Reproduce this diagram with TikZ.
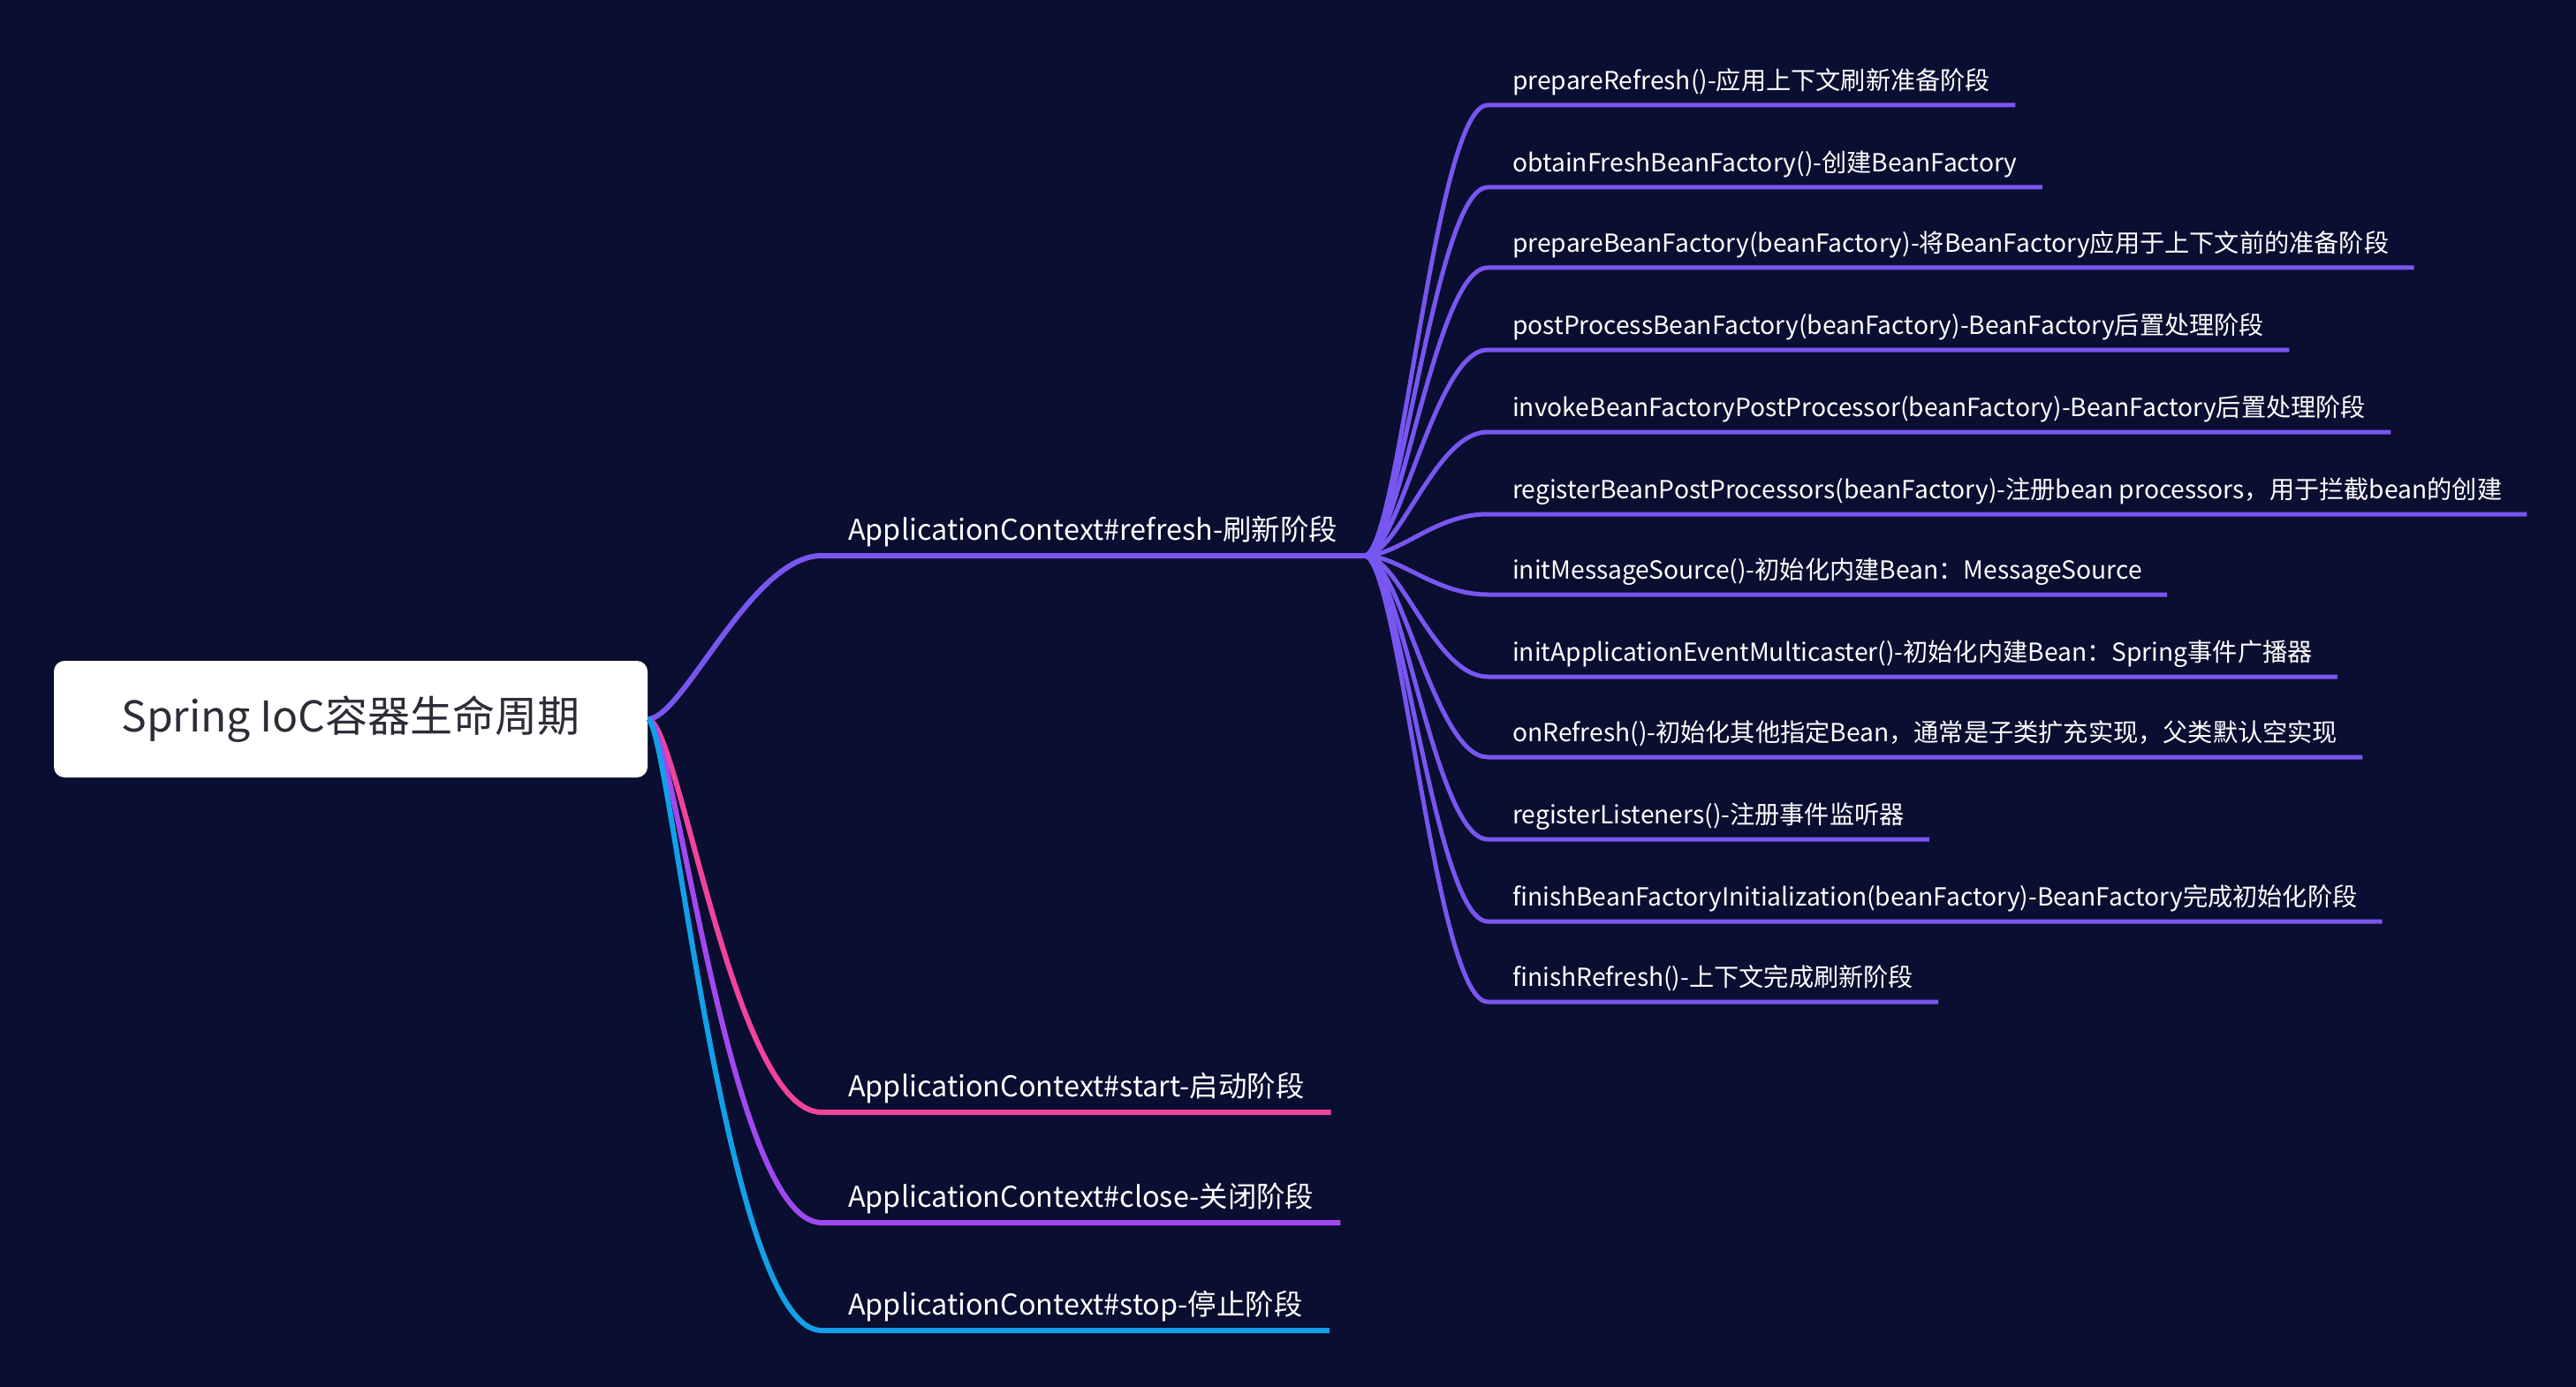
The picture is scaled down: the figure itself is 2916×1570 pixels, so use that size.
\documentclass[tikz,border=0pt]{standalone}
\usepackage{fontspec}
\setmainfont{Noto Sans CJK SC}
\usepackage{xcolor}
\usepackage{tikz}
\usetikzlibrary{positioning}

\definecolor{bgnavy}{RGB}{10,14,48}
\definecolor{rootgray}{RGB}{43,46,54}
\definecolor{refpurple}{RGB}{120,86,240}
\definecolor{startpink}{RGB}{240,68,155}
\definecolor{closeviolet}{RGB}{162,72,240}
\definecolor{stopblue}{RGB}{18,160,232}

\begin{document}
\begin{tikzpicture}[
    x=1pt, y=-1pt,
    rootbox/.style={rectangle, fill=white, rounded corners=12pt,
                    minimum width=672pt, minimum height=132pt,
                    text=rootgray, font=\fontsize{48}{52}\selectfont},
    stage/.style={anchor=south west, inner xsep=30pt, inner ysep=17pt,
                  text depth=0pt, text=white, font=\fontsize{32.4}{35}\selectfont},
    leaf/.style={anchor=south west, inner xsep=28pt, inner ysep=17pt,
                 text depth=0pt, text=white, font=\fontsize{28.2}{30}\selectfont},
    link/.style={line width=6pt},
    twig/.style={line width=5pt, refpurple},
  ]
    \useasboundingbox (0,0) rectangle (2916,1570);
    \fill[bgnavy] (0,0) rectangle (2916,1570);

    \node[rootbox] (root) at (397,814) {Spring IoC容器生命周期};

    % stages of the context
    \node[stage] (refresh) at (930,629)  {ApplicationContext\#refresh-刷新阶段};
    \node[stage] (start)   at (930,1259) {ApplicationContext\#start-启动阶段};
    \node[stage] (close)   at (930,1384) {ApplicationContext\#close-关闭阶段};
    \node[stage] (stop)    at (930,1506) {ApplicationContext\#stop-停止阶段};

    % steps of refresh
    \node[leaf] (prep)     at (1684,119)  {prepareRefresh()-应用上下文刷新准备阶段};
    \node[leaf] (obtain)   at (1684,212)  {obtainFreshBeanFactory()-创建BeanFactory};
    \node[leaf] (prepbf)   at (1684,303)  {prepareBeanFactory(beanFactory)-将BeanFactory应用于上下文前的准备阶段};
    \node[leaf] (postbf)   at (1684,396)  {postProcessBeanFactory(beanFactory)-BeanFactory后置处理阶段};
    \node[leaf] (invoke)   at (1684,489)  {invokeBeanFactoryPostProcessor(beanFactory)-BeanFactory后置处理阶段};
    \node[leaf] (regbpp)   at (1684,582)  {registerBeanPostProcessors(beanFactory)-注册bean processors，用于拦截bean的创建};
    \node[leaf] (msgsrc)   at (1684,673)  {initMessageSource()-初始化内建Bean：MessageSource};
    \node[leaf] (multicst) at (1684,766)  {initApplicationEventMulticaster()-初始化内建Bean：Spring事件广播器};
    \node[leaf] (onref)    at (1684,857)  {onRefresh()-初始化其他指定Bean，通常是子类扩充实现，父类默认空实现};
    \node[leaf] (reglis)   at (1684,950)  {registerListeners()-注册事件监听器};
    \node[leaf] (finbf)    at (1684,1043) {finishBeanFactoryInitialization(beanFactory)-BeanFactory完成初始化阶段};
    \node[leaf] (finref)   at (1684,1134) {finishRefresh()-上下文完成刷新阶段};

    % root -> stages
    \draw[link, refpurple]   (root.east) .. controls +(40,0) and +(-80,0)  .. (refresh.south west) -- (refresh.south east);
    \draw[link, startpink]   (root.east) .. controls +(35,0) and +(-100,0) .. (start.south west) -- (start.south east);
    \draw[link, closeviolet] (root.east) .. controls +(30,0) and +(-105,0) .. (close.south west) -- (close.south east);
    \draw[link, stopblue]    (root.east) .. controls +(25,0) and +(-110,0) .. (stop.south west) -- (stop.south east);

    % refresh -> steps
    \draw[twig] (refresh.south east) .. controls +(40,0) and +(-60,0) .. (prep.south west) -- (prep.south east);
    \draw[twig] (refresh.south east) .. controls +(40,0) and +(-60,0) .. (obtain.south west) -- (obtain.south east);
    \draw[twig] (refresh.south east) .. controls +(40,0) and +(-60,0) .. (prepbf.south west) -- (prepbf.south east);
    \draw[twig] (refresh.south east) .. controls +(40,0) and +(-60,0) .. (postbf.south west) -- (postbf.south east);
    \draw[twig] (refresh.south east) .. controls +(40,0) and +(-60,0) .. (invoke.south west) -- (invoke.south east);
    \draw[twig] (refresh.south east) .. controls +(40,0) and +(-60,0) .. (regbpp.south west) -- (regbpp.south east);
    \draw[twig] (refresh.south east) .. controls +(40,0) and +(-60,0) .. (msgsrc.south west) -- (msgsrc.south east);
    \draw[twig] (refresh.south east) .. controls +(40,0) and +(-60,0) .. (multicst.south west) -- (multicst.south east);
    \draw[twig] (refresh.south east) .. controls +(40,0) and +(-60,0) .. (onref.south west) -- (onref.south east);
    \draw[twig] (refresh.south east) .. controls +(40,0) and +(-60,0) .. (reglis.south west) -- (reglis.south east);
    \draw[twig] (refresh.south east) .. controls +(40,0) and +(-60,0) .. (finbf.south west) -- (finbf.south east);
    \draw[twig] (refresh.south east) .. controls +(40,0) and +(-60,0) .. (finref.south west) -- (finref.south east);
\end{tikzpicture}
\end{document}
